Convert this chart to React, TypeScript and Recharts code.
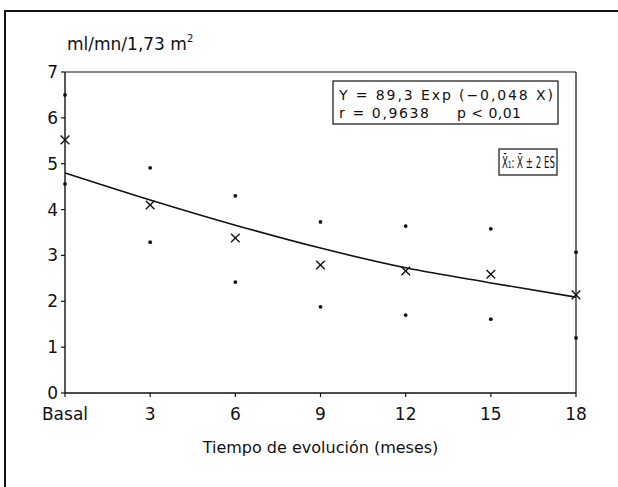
import React from 'react';
import { ComposedChart, XAxis, YAxis, Line, Scatter, ReferenceLine } from 'recharts';

const months = [0, 3, 6, 9, 12, 15, 18];
const xTickLabels = ['Basal', '3', '6', '9', '12', '15', '18'];
const yTicks = [0, 1, 2, 3, 4, 5, 6, 7];
const meanValues = [5.52, 4.1, 3.38, 2.79, 2.66, 2.59, 2.14];
const upperValues = [6.5, 4.91, 4.3, 3.73, 3.64, 3.58, 3.07];
const lowerValues = [4.56, 3.29, 2.42, 1.88, 1.7, 1.61, 1.2];
const fitValues = [4.8, 4.21, 3.66, 3.16, 2.73, 2.4, 2.09];

const yAxisTitle = 'ml/mn/1,73 m';
const xAxisTitle = 'Tiempo de evolución (meses)';
const equationLine1 = 'Y = 89,3 Exp (−0,048 X)';
const equationR = 'r = 0,9638';
const equationP = 'p < 0,01';
const legendText = 'X̄₁: X̄ ± 2 ES';

const data = months.map((m, i) => ({
  month: m,
  mean: meanValues[i],
  upper: upperValues[i],
  lower: lowerValues[i],
  fit: fitValues[i],
}));

const FONT = '"DejaVu Sans", "Liberation Sans", sans-serif';
const INK = '#111';

const XMark = (props: any) => {
  const { cx, cy } = props;
  if (cx == null || cy == null) return null;
  const s = 4.3;
  return (
    <g>
      <line x1={cx - s} y1={cy - s} x2={cx + s} y2={cy + s} stroke={INK} strokeWidth={1.4} />
      <line x1={cx - s} y1={cy + s} x2={cx + s} y2={cy - s} stroke={INK} strokeWidth={1.4} />
    </g>
  );
};

const DotMark = (props: any) => {
  const { cx, cy } = props;
  if (cx == null || cy == null) return null;
  return <circle cx={cx} cy={cy} r={1.9} fill={INK} />;
};

const tickStyle = { fontFamily: FONT, fontSize: 17, fill: INK };

export default function App() {
  return (
    <div style={{ position: 'absolute', left: 0, top: 0, width: 618, height: 487, background: '#fff', overflow: 'hidden' }}>
      <ComposedChart
        width={618}
        height={487}
        data={data}
        margin={{ top: 72, right: 42, left: 25, bottom: 24 }}
      >
        <XAxis
          type="number"
          dataKey="month"
          domain={[0, 18]}
          ticks={months}
          tickFormatter={(v: number) => xTickLabels[months.indexOf(v)] ?? String(v)}
          tick={tickStyle}
          tickSize={4}
          tickMargin={11}
          height={70}
          axisLine={{ stroke: INK, strokeWidth: 1.4 }}
          tickLine={{ stroke: INK, strokeWidth: 1.2 }}
          label={{ value: xAxisTitle, position: 'insideBottom', offset: 10, style: { fontFamily: FONT, fontSize: 16, fill: INK } }}
        />
        <YAxis
          type="number"
          domain={[0, 7]}
          ticks={yTicks}
          tick={tickStyle}
          tickSize={4}
          tickMargin={3}
          width={40}
          axisLine={{ stroke: INK, strokeWidth: 1.4 }}
          tickLine={{ stroke: INK, strokeWidth: 1.2 }}
        />
        <ReferenceLine y={7} stroke={INK} strokeWidth={1.2} />
        <ReferenceLine x={18} stroke={INK} strokeWidth={1.2} />
        <Line
          type="monotone"
          dataKey="fit"
          stroke={INK}
          strokeWidth={1.6}
          dot={false}
          activeDot={false}
          isAnimationActive={false}
        />
        <Scatter dataKey="upper" shape={DotMark} isAnimationActive={false} />
        <Scatter dataKey="lower" shape={DotMark} isAnimationActive={false} />
        <Scatter dataKey="mean" shape={XMark} isAnimationActive={false} />
      </ComposedChart>
      <svg
        width={618}
        height={487}
        style={{ position: 'absolute', left: 0, top: 0, pointerEvents: 'none' }}
      >
        <path d="M5,487 V11 H618" fill="none" stroke={INK} strokeWidth={2} />
        <text x={67} y={50} fontFamily={FONT} fontSize={17} fill={INK}>
          {yAxisTitle}
          <tspan fontSize={10} dy={-8}>2</tspan>
        </text>
        <rect x={333} y={81} width={225} height={43} fill="#fff" stroke={INK} strokeWidth={1.2} />
        <text x={339} y={100} fontFamily={FONT} fontSize={14} fill={INK} textLength={214} lengthAdjust="spacing">
          {equationLine1}
        </text>
        <text x={339} y={118} fontFamily={FONT} fontSize={14} fill={INK} textLength={90} lengthAdjust="spacing">{equationR}</text>
        <text x={457} y={118} fontFamily={FONT} fontSize={14} fill={INK} textLength={64} lengthAdjust="spacing">{equationP}</text>
        <rect x={499} y={149} width={58} height={26} fill="#fff" stroke={INK} strokeWidth={1.2} />
        <text x={502} y={168} fontFamily={FONT} fontSize={16} fill={INK} textLength={53} lengthAdjust="spacingAndGlyphs">
          {legendText}
        </text>
      </svg>
    </div>
  );
}
